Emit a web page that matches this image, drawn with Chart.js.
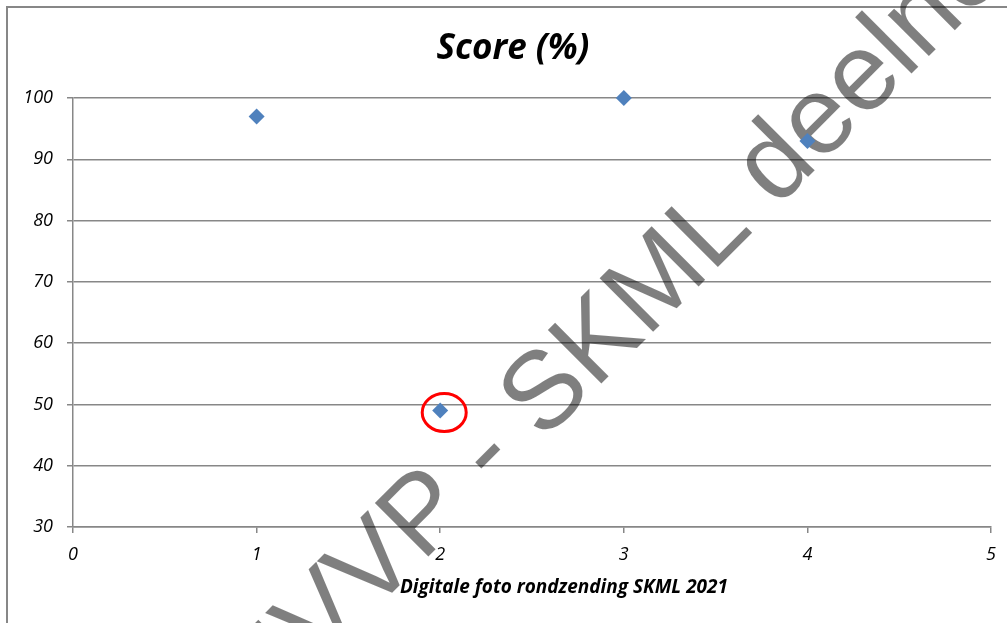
<!DOCTYPE html>
<html>
<head>
<meta charset="utf-8">
<script src="https://cdn.jsdelivr.net/npm/chart.js@4/dist/chart.umd.min.js"></script>
<style>
  body { margin: 0; background: #fff; overflow: hidden; }
  #frame { position: absolute; left: 6px; top: 6px; width: 1030px; height: 650px; border: 2px solid #878787; }
  #wrap { position: absolute; left: 0; top: 0; width: 1007px; height: 623px; }
</style>
</head>
<body>
<div id="frame"></div>
<div id="wrap"><canvas id="scoreChart"></canvas></div>
<script>
var rounds = [1, 2, 3, 4];
var scores = [97, 49, 100, 93];
var yTicks = [30, 40, 50, 60, 70, 80, 90, 100];
var xTicks = [0, 1, 2, 3, 4, 5];
var chartTitle = 'Score (%)';
var xTitle = 'Digitale foto rondzending SKML 2021';
var watermark = 'NVVP - SKML deelnemer';
var markedIndex = 1;

var gridColor = '#878787';

// titels zelf plaatsen, ze staan niet precies boven/onder het midden van het plotvlak
var titlePlugin = {
    id: 'titles',
    afterDraw: function (chart) {
        var ctx = chart.ctx;
        ctx.save();
        ctx.fillStyle = '#000';
        ctx.textAlign = 'center';
        ctx.textBaseline = 'middle';
        ctx.font = 'italic bold 35px "Open Sans"';
        ctx.fillText(chartTitle, 513, 49);
        ctx.font = 'italic bold 19px "Open Sans"';
        ctx.fillText(xTitle, 564, 588);
        ctx.restore();
    }
};

// rode cirkel rond het afwijkende punt
var circlePlugin = {
    id: 'markCircle',
    afterDatasetsDraw: function (chart) {
        var ctx = chart.ctx;
        var xs = chart.scales.x, ys = chart.scales.y;
        var cx = xs.getPixelForValue(rounds[markedIndex]) + 4;
        var cy = ys.getPixelForValue(scores[markedIndex]) + 2;
        ctx.save();
        ctx.strokeStyle = '#ff0000';
        ctx.lineWidth = 3;
        ctx.beginPath();
        ctx.ellipse(cx, cy, 22, 19, 0, 0, Math.PI * 2);
        ctx.stroke();
        ctx.restore();
    }
};

// watermerk over het raster, onder de punten
var watermarkPlugin = {
    id: 'watermark',
    beforeDatasetsDraw: function (chart) {
        var ctx = chart.ctx;
        ctx.save();
        ctx.font = '110px "Liberation Sans"';
        ctx.fillStyle = 'rgba(0,0,0,0.5)';
        ctx.textBaseline = 'alphabetic';
        ctx.translate(543, 442);
        ctx.rotate(-Math.PI / 4);
        var pre = ctx.measureText('NVVP - ').width;
        ctx.fillText(watermark, -pre, 0);
        ctx.restore();
    }
};

var ctx = document.getElementById('scoreChart').getContext('2d');
var scoreChart = new Chart(ctx, {
    type: 'scatter',
    data: {
        datasets: [{
            label: chartTitle,
            data: rounds.map(function (r, i) { return { x: r, y: scores[i] }; }),
            pointStyle: 'rectRot',
            pointRadius: 8,
            pointHoverRadius: 8,
            backgroundColor: '#4f81bd',
            borderColor: '#4f81bd',
            borderWidth: 0,
            clip: false
        }]
    },
    options: {
        responsive: true,
        maintainAspectRatio: false,
        animation: false,
        layout: { padding: { left: 20, right: 12, top: 98, bottom: 0 } },
        plugins: {
            legend: { display: false },
            tooltip: { enabled: false },
            title: { display: false }
        },
        scales: {
            x: {
                type: 'linear',
                min: 0,
                max: 5,
                afterBuildTicks: function (scale) {
                    scale.ticks = xTicks.map(function (v) { return { value: v }; });
                },
                afterFit: function (scale) { scale.height = 96; },
                grid: { drawOnChartArea: false, drawTicks: true, tickLength: 6, color: gridColor, lineWidth: 1.5 },
                border: { display: true, color: gridColor, width: 1.5 },
                ticks: {
                    color: '#000',
                    padding: 11,
                    maxRotation: 0,
                    font: { family: 'Open Sans', size: 18, style: 'italic' }
                }
            },
            y: {
                type: 'linear',
                min: 30,
                max: 100,
                afterBuildTicks: function (scale) {
                    scale.ticks = yTicks.map(function (v) { return { value: v }; });
                },
                afterFit: function (scale) { scale.width = 53; },
                grid: { drawOnChartArea: true, drawTicks: true, tickLength: 6, color: gridColor, lineWidth: 1.5 },
                border: { display: true, color: gridColor, width: 1.5 },
                ticks: {
                    color: '#000',
                    padding: 14,
                    font: { family: 'Open Sans', size: 18, style: 'italic' }
                }
            }
        }
    },
    plugins: [watermarkPlugin, circlePlugin, titlePlugin]
});
</script>
</body>
</html>
